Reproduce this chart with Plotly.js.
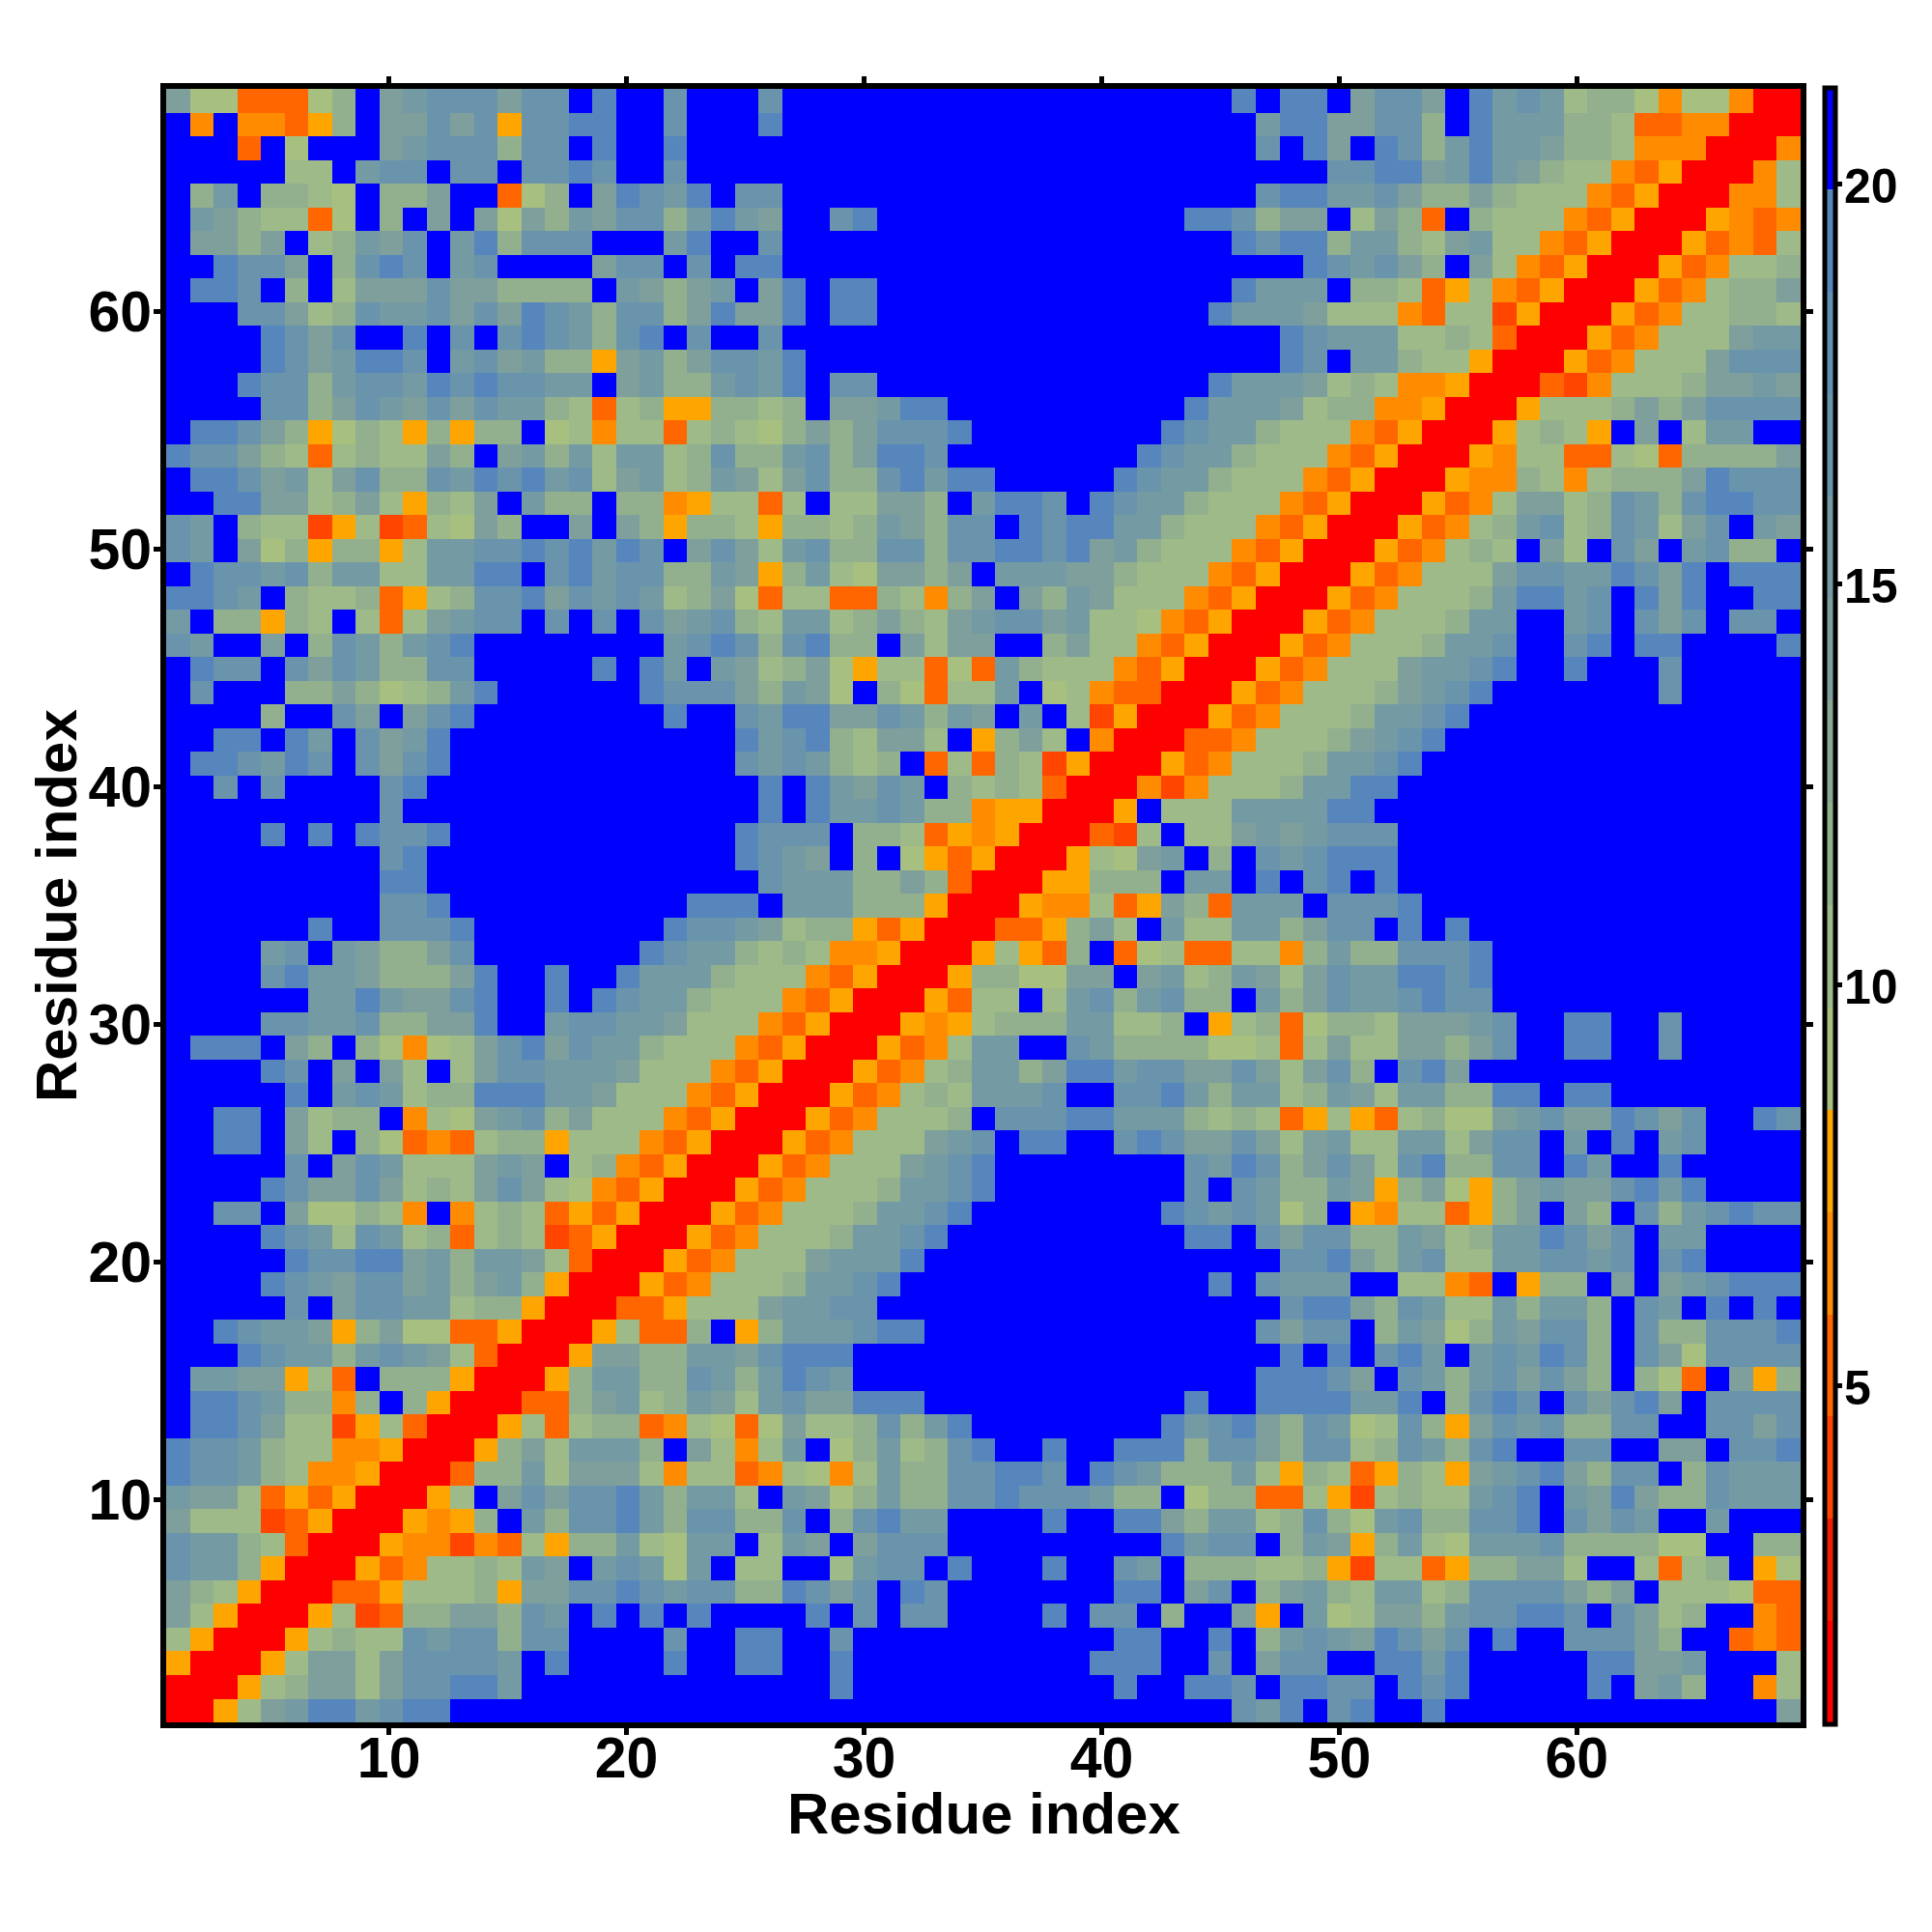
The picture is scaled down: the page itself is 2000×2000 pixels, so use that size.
<!DOCTYPE html>
<html>
<head>
<meta charset="utf-8">
<script src="https://cdn.plot.ly/plotly-3.0.1.min.js"></script>
<style>html,body{margin:0;padding:0;background:#fff}#chart{width:2000px;height:2000px}</style>
</head>
<body>
<div id="chart"></div>
<script>
// Distance classes, top row (residue 69) first; one letter per cell.
const rowsFromTop = [
"daaDDDacBdefffdffBgBBfBB|BfBBBBBBBBBBBBBBBBBBBg|BggBdffdBgefebccaOaaORR",
"BOBOODYcBddfdfYffggBBfBB|BgBBBBBBBBBBBBBBBBBBBB|eggddffcBgeeeccbDDOORRR",
"BBBDBaBBBdefffcffBgBBgBB|BBBBBBBBBBBBBBBBBBBBBB|fBgdBgfcegeedccbOOORRRO",
"BBBBBbbBeffBffBffgfBBfBB|BBBBBBBBBBBBBBBBBBBBBB|BBBffggdegedcbbODYRRROb",
"BceBccbaBccdBBDacBdgfegB|ffBBBBBBBBBBBBBBBBBBBB|fggeefdccdcbbbODYRRROOb",
"BedcbbDaBcBdBdadcedffceg|edBBfgBBBBBBBBBBBBBggf|cddBbdcDBcbbbODYRRRYODO",
"BddcdBbcedfBegcfffBBBegB|BfBBBBBBBBBBBBBBBBBBBg|fggceecbdebbODYRRRYDODb",
"BBgffdBcfgfBefBBBBdffBfB|ggBBBBBBBBBBBBBBBBBBBB|BBgfefdcBdbODYRRRYDObbc",
"BggfBcBbdddfddccccBedcde|BdgBggBBBBBBBBBBBBBBBg|eeeBccbDYbODYRRRYDObccd",
"BBBffdbcfeefdfdgfecffcdg|ddgBggBBBBBBBBBBBBBBge|eedbbbODbbXYRRRYDObbccb",
"BBBBgfdfBBgBfBfgfecfgBfB|BfBBBBBBBBBBBBBBBBBBBB|BgfeeebbcbDRRRYDObbbdee",
"BBBBgfdeggfBefdeccYdecdf|fegBBBBBBBBBBBBBBBBBBB|BgfBeecbbYRRRYDObbbdfff",
"BBBgffceffegfgffeeBdecce|fegBffBBBBBBBBBBBBBBge|eedbcbOOYRRRDXObbbcdded",
"BBBBffcdfedfdfeecbDbcYYc|cbcBddeggBBBBBBBBBBgee|edbccOOYRRRYbbbcdcdffff",
"BggfdcYacbYcYccBabObbDbc|bacdcdfffgBBBBBBBBgfee|cbbbODYRRRYbcbYBdBbeeBB",
"gffdcbDbcbbdcBdecebeebcf|ccefcdggfBBBBBBBBgfeec|bbbODYRRRYObbDDbaDccccd",
"Bggfdebdfccfegfgefbdebce|dbdfccfgeggBBBBBgfeecb|bbODYRRRYOOcbObcccdgfff",
"BBggddbcdbYcbdBeccBccOYb|bDbBbbddcBeggfBgfeecbb|bODYRRRYDObddbcfecfggff",
"feBcbbXYbXDbadcBBdBdcYcc|bYccbcedcffBgfggeecbbb|ODYRRRYDObcefbcfebdfBed",
"feBdacYccYbeeffgfgegfBdf|dbefccffcffggfgdecbbbO|DYRRRYDObcbBdbBfdBefccB",
"BgffefceebbeeggBfgeffcce|dYcebaddcdBeeeddcbbbOD|YRRRYDObbbdffeegfdgBggg",
"ggfeBcbbcDYbcffgdfefebcd|aDbbDDcbOcdBdcedbbbODY|RRRYDObbbceggefBgdgBBgg",
"eBccYcbBbDbdeffBfBfBfdef|cbeebcdcbdeffdebbaODYR|RRYDObbbceeBBefBfdfBffB",
"feBBdBcfecefgBBBBBBBBefg|fcfgccBdbddBBcdbbODYRR|RYDObbbceefBBfgBggBBBBg",
"BgffBfdfeccffBBBBBgBgeBe|dbcdaYbbDaDecbbbODYRRR|YDObbbdeefgBBgBBBfBBBBB",
"BfBBBccdcabcegBBBBBBgfff|dcedaBcaDbbeBabODDRRRY|DObbbcdefgBBBBBBBfBBBBB",
"BBBBcBBfdBdfgBBBBBBBBgBB|feggddfecedBeBbXYRRRYD|ObbbceefgBBBBBBBBBBBBBB",
"BBggBgeBfdegBBBBBBBBBBBB|gefgcbddbBYcdbBORRRDDO|bbbcdefgBBBBBBBBBBBBBBB",
"BggfegfBfdfgBBBBBBBBBBBB|fefecbcBDbDcbXYRRRYDOb|bbceefgBBBBBBBBBBBBBBBB",
"BBfBfBBBBfgBBBBBBBBBBBBB|BgBgedfeBcbcbDRRROXObb|bceeggBBBBBBBBBBBBBBBBB",
"BBBBBBBBBfBBBBBBBBBBBBBB|BgBgeefeccOYYRRRYBbbbe|eeeggBBBBBBBBBBBBBBBBBB",
"BBBBgBgBgffgBBBBBBBBBBBB|gfffBccbDYOYRRRDXbBbbd|edefffBBBBBBBBBBBBBBBBB",
"BBBBBBBBBfgBBBBBBBBBBBBB|gfedBcBaYDYRRRYbadeBcB|fefgggBBBBBBBBBBBBBBBBB",
"BBBBBBBBBggBBBBBBBBBBBBB|BfeeeccdcDRRRYYcccBeeB|gBfgBgBBBBBBBBBBBBBBBBB",
"BBBBBBBBBffgBBBBBBBBBBgg|gBeeecccYRRRYOObDYdcDe|eeBfffgBBBBBBBBBBBBBBBB",
"BBBBBBgBBfffgBBBBBBBBgff|edbccYDYRRRDDYcdbBebbe|ecdffBgBgBBBBBBBBBBBBBB",
"BBBBefBedccdfBBBBBBBgfee|cbcbOOYRRRYbYDcBDabDDb|bOceccfffgBBBBBBBBBBBBB",
"BBBBfgeedcccdgBBgBBgeeec|bbbODYRRRYccaaddBdebce|dbdfeeggfgBBBBBBBBBBBBB",
"BBBBBBeegeddfgBBgBgfeecb|bbODYRRRYDbbBbefcefccB|ecdfeefgffBBBBBBBBBBBBB",
"BBBBffeefccddgBBeffeedbb|bODYRRRYOYbccceebbcBYb|cDaccbdddefBBggBBfBBBBB",
"BgggBdcBcaOabdfgdfeecbbb|ODYRRRYDObeeBBfeccccaa|bDbdbbddcdfBBggBBfBBBBB",
"BBBBgfBdBdbBbdffeeedbbbO|DYRRRYDObceecdggeffddf|dbdfcBfgdBBBBBBBBBBBBBB",
"BBBBBgBefebccgggeedbbbOD|YRRRYDObcbeeefBBffgece|ebcedbeeccggBggBBBBBBBB",
"BBggBdbccBObadefcdbbbODY|RRRYDObbbcBfffggeeecbc|bDYbYDbcaadefddgfdfBBgf",
"BBggBdbBcaDODbccYbbbODYR|RRYDObbbdefBggBBfgfddf|dbdebbeebdffBeBgBefBBBB",
"BBBBBfBdfebbbdedBbcODYRR|RYDObbbdefgBBBBBBBBfeg|fcdfdbfgccffBgeBBgBBBBB",
"BBBBgfddfdbcbdfdbaODYRRR|YDObbbceefgBBBBBBBBfBf|eccedYcdaYcdeddfgegBBBB",
"BBffBdaacbOBObcbDYDYRRRY|DObbbceefgBBBBBBBBgfef|eacBYObbDYcdBdcBfcefgff",
"BBBBgfebfebcDbcbXDYRRRYD|ObbbceefgBBBBBBBBBBggB|fdffccedbceegfdfBeeBBBB",
"BBBBBgffggdeceedbDRRRYDO|bbbdeeegBBBBBBBBBBBBBB|BffgdcefbbeeffefBfgBBBB",
"BBBBgfedffdecdecYRRRYDOb|bbceefgBBBBBBBBBBBBBgB|feeeBBbbODBYccBdBdefggg",
"BBBBBfBdffeebccYRRRDDYbb|bdeeffBBBBBBBBBBBBBBBB|BfggdcfebbeceecBfeBgBgB",
"BBgfeedYcdaaDDYRRRYbDDcB|YceeefggBBBBBBBBBBBBBB|fdffBcedacedffcBfccfffg",
"BBBgfeecefedbDRRRYddccee|dfgggBBBBBBBBBBBBBBBBB|BgBgBfgeBefegfcBfdaffff",
"BeeddYbDBcccYRRRYceeccfe|cegfeBBBBBBBBBBBBBBBBB|gggfdBfecefdfdcBcaDBdYc",
"BggfeccOcBcYRRRDDcdebced|befddgggBBBBBBBBBBBgBB|ggggeegBcfgfBfdfgdBffff",
"BggfdbbXYbDRRRYbDbccDOba|DadbbcfcegBBBBBBBBgefg|dcfeabfcYdfefccffBBffdf",
"gffecbbOOYRRRYcdbeeecBdb|ObeBacebcfgBBgBBgggcff|dcffbcfecfgBBffBBddBffg",
"gffecbOOYRRRDccebdddbObb|DObaObeccffggfBgfeccce|bYcbDYcbYdefgdcffBcfeee",
"eddbDYDYRRRYbBdfdffgecee|bBedaceccffgfffeccBacc|DDbYXbcbbefgBedgdccfeee",
"dbbbXDYRRRYOYcBecffgecff|ccfBcfgeeBBBBgBBggdcee|bcfcaefccffgBfdfeBBeBBB",
"feecbDRRRYOOXODbYccebaee|BbedBdfffBBBBBBBBBgeff|BcedYcebaeeefccccaaBBcc",
"feecYRRRYDObbcbedBefeaeB|bbBBbeffBgBBBgBBfeBccc|bbcYXbbDYccddbBBbDbcBYa",
"dcbYRRRDDYbbbcYddffgfeff|ccgfdfBgfBBBBBBBggBdfB|cdecbeebcffffdcdBbbbaDD",
"dbYRRRYbXDccddcfeBgBgBgB|BBBgBfBffBBBBgBffBcBBd|YBeabddceffggfBfdbcBBOD",
"bYRRRYbcbbfeffcffBBBBfBB|ggBBfBBBBBBBBBBBggBBgB|cefedgfdfBgBBfffdcBBDOD",
"YRRRYbddbdffffeBgBBBBgBB|ggBBgBBBBBBBBBBgggBBfB|dffBBggegBBBBBggddeBBBb",
"RRRYbcddbdffggeBBBBBBBBB|BBBBgBBBBBBBBBBBgBBggf|BggffBgfgBBBBBgBdecBBOb",
"RRYbdeggefggBBBBBBBBBBBB|BBBBBBBBBBBBBBBBBBBBBf|egBfgBBgBBBBBBBBBBBBBBd"
];
const classValues = {R:1.4, X:3.98, D:5.26, O:6.54, Y:7.8, a:9.1, b:10.35, c:11.6, d:14.2, e:15.45, f:16.75, g:19.25, B:20.5};
const levelColors = ["#FF0000","#F01E00","#FF4500","#FF6600","#FF8C00","#FFA500","#A8C07F","#9EBA88","#92B08E","#88A894","#7E9F9C","#749AA4","#6A94AC","#6190B3","#5686BC","#0000FF"];
const zMin = 0.78, zMax = 21.2;
const tickValues = [10,20,30,40,50,60];
const barTickValues = [5,10,15,20];
const axisTitle = "Residue index";

const segLens = [24,22,23];
rowsFromTop.forEach((r,i)=>{ r.split("|").forEach((s,j)=>{ if(s.length!==segLens[j]) throw new Error("row t="+(i+1)+" seg "+j+" len "+s.length); }); });
if(rowsFromTop.length!==69) throw new Error("rows "+rowsFromTop.length);

const z = rowsFromTop.slice().reverse().map(r=>r.replace(/\|/g,"").split("").map(c=>classValues[c]));
const colorscale = [];
levelColors.forEach((c,i)=>{ colorscale.push([i/levelColors.length,c]); colorscale.push([(i+1)/levelColors.length,c]); });

const fam = '"Liberation Sans", Arial, sans-serif';
const tickFont = {family:fam,size:59,color:"#000",weight:700};
const titleFont = {family:fam,size:60,color:"#000",weight:700};
const W=2000,H=2000,L=171.5,R=1864,T=91.5,B=1783.5;
const axisBase = {
  tickmode:"array", tickvals:tickValues, ticks:"outside", ticklen:7, tickwidth:5, tickcolor:"#000",
  showline:true, linecolor:"#000", linewidth:6, mirror:"ticks", showgrid:false, zeroline:false, tickfont:tickFont, automargin:false
};
const px = x => (x-L)/(R-L), py = y => (B-y)/(B-T);
Plotly.newPlot("chart",[{
  type:"heatmap", z:z, x0:1.1186, dx:0.9971, y0:1.118, dy:0.99652, zmin:zMin, zmax:zMax, colorscale:colorscale, zsmooth:false, hoverinfo:"skip",
  colorbar:{
    x:px(1889.5), xanchor:"left", xref:"paper", y:0.5, yanchor:"middle", len:1.002, lenmode:"fraction", xpad:0, ypad:0,
    thickness:11, thicknessmode:"pixels", outlinewidth:5, outlinecolor:"#000", borderwidth:0,
    tickmode:"array", tickvals:barTickValues, ticks:"outside", ticklen:5, tickwidth:5, tickcolor:"#000",
    tickfont:{family:fam,size:50,color:"#000",weight:700}
  }
}],{
  width:W,height:H,autosize:false,paper_bgcolor:"#fff",plot_bgcolor:"#fff",showlegend:false,
  margin:{l:L,r:W-R,t:T,b:H-B,pad:0},
  xaxis:Object.assign({},axisBase,{range:[0.62,69.42],ticklabelstandoff:-27}),
  yaxis:Object.assign({},axisBase,{range:[0.62,69.38],ticklabelstandoff:-10}),
  annotations:[
    {text:axisTitle,font:titleFont,xref:"paper",yref:"paper",x:px(1018),y:py(1878),xanchor:"center",yanchor:"middle",showarrow:false},
    {text:axisTitle,font:titleFont,xref:"paper",yref:"paper",x:px(58),y:py(937.5),xanchor:"center",yanchor:"middle",showarrow:false,textangle:-90}
  ]
},{displayModeBar:false,staticPlot:true}).then(gd=>{
  gd.querySelectorAll(".colorbar .cbaxis text, .colorbar .ytick text, .colorbar text").forEach(t=>{
    const x=parseFloat(t.getAttribute("x")||0), y=parseFloat(t.getAttribute("y")||0);
    t.setAttribute("x",x-8); t.setAttribute("y",y+2);
  });
});
</script>
</body>
</html>
